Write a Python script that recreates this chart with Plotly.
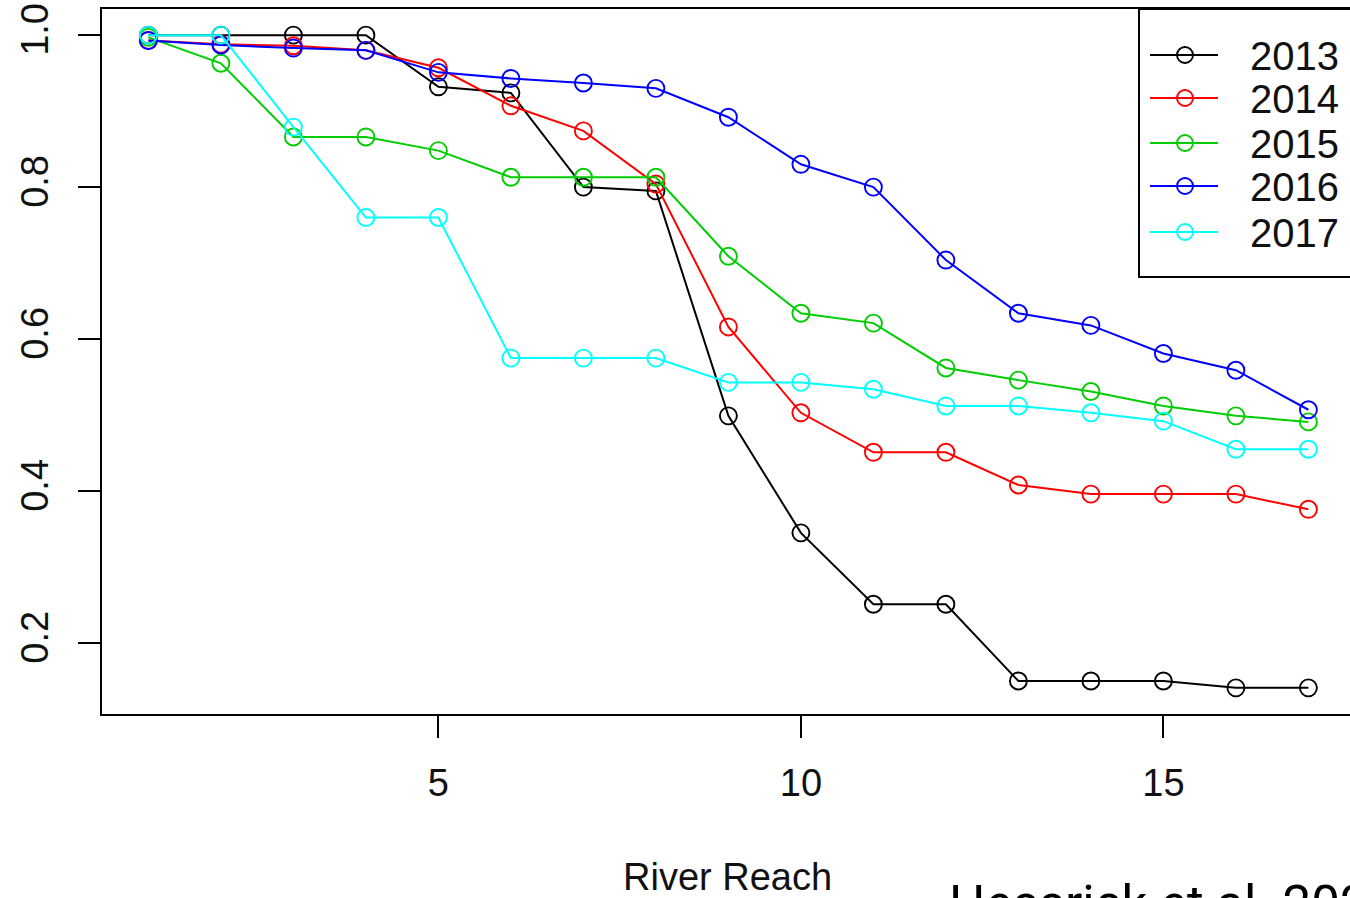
import plotly.graph_objects as go

# ---- data ----
reach = list(range(1, 18))
years = ["2013", "2014", "2015", "2016", "2017"]
colors = ["#000000", "#FF0000", "#00CD00", "#0000FF", "#00FFFF"]
y2013 = [1.0, 1.0, 1.0, 1.0, 0.932, 0.924, 0.800, 0.795, 0.499, 0.345, 0.251, 0.251, 0.150, 0.150, 0.150, 0.141, 0.141]
y2014 = [0.993, 0.988, 0.986, 0.980, 0.957, 0.907, 0.874, 0.804, 0.616, 0.503, 0.451, 0.451, 0.408, 0.396, 0.396, 0.396, 0.376]
y2015 = [0.997, 0.963, 0.866, 0.866, 0.848, 0.813, 0.813, 0.813, 0.709, 0.634, 0.621, 0.562, 0.546, 0.531, 0.512, 0.499, 0.491]
y2016 = [0.993, 0.987, 0.983, 0.980, 0.951, 0.943, 0.937, 0.930, 0.892, 0.830, 0.800, 0.704, 0.634, 0.618, 0.581, 0.559, 0.507]
y2017 = [1.0, 1.0, 0.879, 0.760, 0.760, 0.575, 0.575, 0.575, 0.543, 0.543, 0.534, 0.512, 0.512, 0.503, 0.492, 0.455, 0.455]
series = [y2013, y2014, y2015, y2016, y2017]
x_ticks = [5, 10, 15]
y_ticks = [0.2, 0.4, 0.6, 0.8, 1.0]
y_ticktext = ["0.2", "0.4", "0.6", "0.8", "1.0"]
x_title = "River Reach"
credit = "Hessrick et al. 2022"

W, H = 1350, 898
ML, MR, MT, MB = 102, 0, 9, 184
PW, PH = W - ML - MR, H - MT - MB


def px_x(p):
    return (p - ML) / PW


def px_y(p):
    return (H - MB - p) / PH


fig = go.Figure()
for name, vals, col in zip(years, series, colors):
    fig.add_trace(go.Scatter(
        x=reach, y=vals, mode="lines+markers", name=name,
        line=dict(color=col, width=2),
        marker=dict(symbol="circle-open", size=17, color=col, line=dict(width=1.9, color=col)),
        showlegend=False,
    ))

font_main = "Liberation Sans, Arial, sans-serif"

shapes = []
annotations = []
# legend box (top-right, partially cut off like the reference)
shapes.append(dict(type="rect", xref="paper", yref="paper",
                   x0=px_x(1139), x1=1.05, y0=px_y(277), y1=px_y(9),
                   line=dict(color="black", width=2), fillcolor="white", layer="above"))
rows = [55, 98, 143, 186, 232]
for name, col, r in zip(years, colors, rows):
    shapes.append(dict(type="line", xref="paper", yref="paper",
                       x0=px_x(1150), x1=px_x(1218), y0=px_y(r), y1=px_y(r),
                       line=dict(color=col, width=2), layer="above"))
    shapes.append(dict(type="circle", xref="paper", yref="paper",
                       xsizemode="pixel", ysizemode="pixel",
                       xanchor=px_x(1185), yanchor=px_y(r),
                       x0=-8, x1=8, y0=-8, y1=8,
                       line=dict(color=col, width=1.9), layer="above"))
    annotations.append(dict(xref="paper", yref="paper", x=px_x(1248), y=px_y(r + 1),
                            text=name, showarrow=False, xanchor="left", yanchor="middle",
                            font=dict(family=font_main, size=40, color="#111111")))

annotations.append(dict(xref="paper", yref="paper", x=px_x(727), y=px_y(877),
                        text=x_title, showarrow=False, xanchor="center", yanchor="middle",
                        font=dict(family=font_main, size=38, color="#111111")))
annotations.append(dict(xref="paper", yref="paper", x=px_x(947), y=px_y(904),
                        text=credit, showarrow=False, xanchor="left", yanchor="middle",
                        font=dict(family="Roboto, sans-serif", size=51, color="#000000")))

fig.update_layout(
    width=W, height=H,
    margin=dict(l=ML, r=MR, t=MT, b=MB, pad=0),
    paper_bgcolor="white", plot_bgcolor="white",
    shapes=shapes, annotations=annotations,
    showlegend=False,
    xaxis=dict(range=[0.36, 0.36 + PW / 72.5], tickvals=x_ticks, ticktext=[str(v) for v in x_ticks],
               showgrid=False, zeroline=False, showline=True, mirror=True,
               linecolor="black", linewidth=2, ticks="outside", ticklen=22, tickwidth=2,
               tickcolor="black", ticklabelstandoff=12,
               tickfont=dict(family=font_main, size=38, color="#111111")),
    yaxis=dict(range=[0.1066, 1.0344], tickvals=y_ticks, ticktext=y_ticktext,
               showgrid=False, zeroline=False, showline=True, mirror=False,
               linecolor="black", linewidth=2, ticks="outside", ticklen=22, tickwidth=2,
               tickcolor="black", tickangle=-90, ticklabelstandoff=15,
               tickfont=dict(family=font_main, size=38, color="#111111")),
)

fig.write_html("out.html")
